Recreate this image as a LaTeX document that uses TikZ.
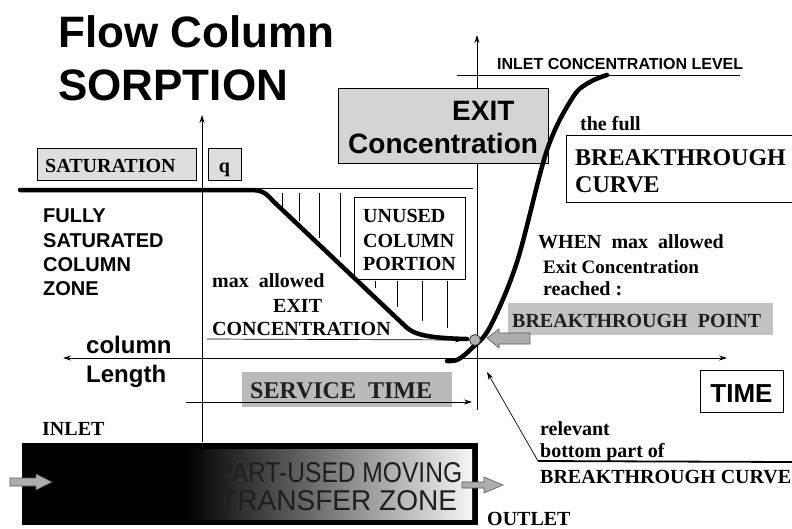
\documentclass[tikz,border=0pt]{standalone}
\usepackage{fontspec}
\setmainfont{Liberation Serif}
\setsansfont{Liberation Sans}
\usetikzlibrary{arrows.meta}
\begin{document}
\begin{tikzpicture}[x=1pt,y=-1pt,
  >={Stealth[length=8pt,width=5pt]},
  lbl/.style={inner sep=0pt, anchor=base west},
  serb/.style={lbl, font=\fontsize{#1}{#1}\selectfont\bfseries},
  serb/.default=20,
  sanb/.style={lbl, font=\fontsize{#1}{#1}\selectfont\sffamily\bfseries},
  sanb/.default=20,
  box/.style={draw=black, line width=0.8pt, inner sep=0pt},
  heavy/.style={line width=4.5pt, line cap=round},
  fine/.style={line width=0.7pt},
  blockarrow/.style={fill=black!32, draw=black!65, line width=0.6pt}
]
\useasboundingbox (0,0) rectangle (792,528);

% ---------- axes ----------
\coordinate (qlow) at (202,442);
\coordinate (qtop) at (202,115);
\coordinate (clow) at (477,410);
\coordinate (ctop) at (477,35);
\coordinate (lenend) at (63,358);
\coordinate (timeend) at (727,358);
\draw[fine,->] (qlow) -- (qtop);
\draw[fine,->] (clow) -- (ctop);
\draw[fine,<->] (lenend) -- (timeend);

% saturation level and inlet concentration level
\coordinate (satA) at (190,188);
\coordinate (satB) at (473,188);
\draw[fine] (satA) -- (satB);
\coordinate (inA) at (457,75);
\coordinate (inB) at (740,75);
\draw[fine] (inA) -- (inB);

% hatching of unused column portion
\foreach \x/\ya/\yb in {282/193/207, 299/193/221, 319/193/238, 340/193/257,
                         375/281/288, 397/281/307, 422/281/321, 447/281/328}
  \draw[fine] (\x,\ya) -- (\x,\yb);

% ---------- boxes ----------
\node[box, fill=black!13, minimum width=159pt, minimum height=32pt] (satbox) at (116.5,164) {};
\node[box, fill=black!13, minimum width=33pt, minimum height=32pt] (qbox) at (224.5,164) {};
\node[box, fill=white, minimum width=111pt, minimum height=82pt] (unusedbox) at (409.5,238) {};
\node[box, fill=black!17, minimum width=210pt, minimum height=75pt] (exitbox) at (443,125.5) {};
\node[box, fill=white, minimum width=240pt, minimum height=67pt] (btcbox) at (686,168.5) {};
\node[fill=black!24, inner sep=0pt, minimum width=265pt, minimum height=32pt] (bpbox) at (640.5,319) {};
\node[fill=black!27, inner sep=0pt, minimum width=210pt, minimum height=35pt] (stbox) at (347,389.5) {};
\node[box, fill=white, minimum width=83pt, minimum height=42pt] (timebox) at (741.5,391) {};

% ---------- curves ----------
\draw[heavy] (20,190) -- (250,190) .. controls (262,190) and (266,193) .. (273,201)
  -- (405,326) .. controls (413,334) and (425,338) .. (467,339);
\draw[heavy] plot[smooth, tension=0.55] coordinates
  {(447,361) (458,359.5) (472,348) (490,327) (517,262) (547,150) (573,97) (590,82) (607,75)};

% max allowed exit concentration line
\coordinate (maxA) at (207,339);
\coordinate (maxB) at (463,340);
\draw[fine,->] (maxA) -- (maxB);

% breakthrough point
\node[circle, draw=black!80, fill=black!30, line width=0.8pt, minimum size=11pt, inner sep=0pt] (bpt) at (475,340) {};
\draw[blockarrow] (487,338) -- (499,329) -- (499,333) -- (530,333) -- (530,344) -- (499,344) -- (499,348) -- cycle;

% service time arrow
\coordinate (stA) at (186,402);
\coordinate (stB) at (472,402);
\draw[fine,->] (stA) -- (stB);

% relevant bottom part pointer
\coordinate (relA) at (538,461);
\coordinate (relB) at (487,372);
\coordinate (relC) at (792,462);
\draw[fine,->] (relA) -- (relB);
\draw[line width=1.8pt] (relA) -- (relC);

% ---------- moving transfer zone bar ----------
\fill[black] (22,443) rectangle (478,525);
\shade[left color=black, right color=black!52] (185,449) rectangle (330,519);
\shade[left color=black!52, right color=black!4] (329.5,449) rectangle (472,519);
\draw[line width=3pt] (23.5,444.5) rectangle (476.5,523.5);
\draw[blockarrow] (10,478) -- (36,478) -- (36,474) -- (52,482) -- (36,490) -- (36,486) -- (10,486) -- cycle;
\draw[blockarrow] (462,482) -- (484,482) -- (484,477) -- (503,485) -- (484,493) -- (484,488) -- (462,488) -- cycle;
\node[lbl, font=\sffamily, text=black!88] (pu1) at (217,482) {\resizebox{245pt}{20pt}{PART-USED MOVING}};
\node[lbl, font=\sffamily, text=black!88] (pu2) at (220,510) {\resizebox{237pt}{20pt}{TRANSFER ZONE}};

% ---------- texts ----------
\node[sanb=44] (t1) at (58,47) {Flow Column};
\node[sanb=44] (t2) at (58,100) {SORPTION};

\node[serb] (sat) at (45,172) {SATURATION};
\node[serb, anchor=base] (q) at (224.5,172) {q};

\node[sanb] (f1) at (43,222) {FULLY};
\node[sanb] (f2) at (43,247) {SATURATED};
\node[sanb] (f3) at (43,271) {COLUMN};
\node[sanb] (f4) at (43,295) {ZONE};

\node[sanb=24] (cl1) at (86,353) {column};
\node[sanb=24] (cl2) at (86,382) {Length};

\node[serb] (u1) at (363,222) {UNUSED};
\node[serb] (u2) at (363,247) {COLUMN};
\node[serb] (u3) at (363,270) {PORTION};

\node[serb] (m1) at (212,287) {max\ \ allowed};
\node[serb] (m2) at (273,312) {EXIT};
\node[serb] (m3) at (212,335) {CONCENTRATION};

\node[sanb=28] (e1) at (452,120) {EXIT};
\node[sanb=28] (e2) at (348,153) {Concentration};

\node[sanb=16] (icl) at (497,69) {INLET CONCENTRATION LEVEL};

\node[serb] (full) at (580,130) {the full};
\node[serb=24] (b1) at (575,165) {BREAKTHROUGH};
\node[serb=24] (b2) at (575,192) {CURVE};

\node[serb] (w1) at (538,248) {WHEN\ \ max\ \ allowed};
\node[serb=19] (w2) at (543,273) {Exit Concentration};
\node[serb] (w3) at (543,295) {reached :};

\node[serb, text=black!88] (bp) at (512,327) {BREAKTHROUGH\ \ POINT};
\node[serb=24, text=black!88] (st) at (250,398) {SERVICE\ \ TIME};

\node[sanb=26, anchor=base] (time) at (741.5,402) {TIME};

\node[serb] (r1) at (540,435) {relevant};
\node[serb] (r2) at (540,457) {bottom part of};
\node[serb] (r3) at (540,483) {BREAKTHROUGH CURVE};

\node[serb] (inlet) at (42,435) {INLET};
\node[serb] (outlet) at (487,525) {OUTLET};
\end{tikzpicture}
\end{document}
